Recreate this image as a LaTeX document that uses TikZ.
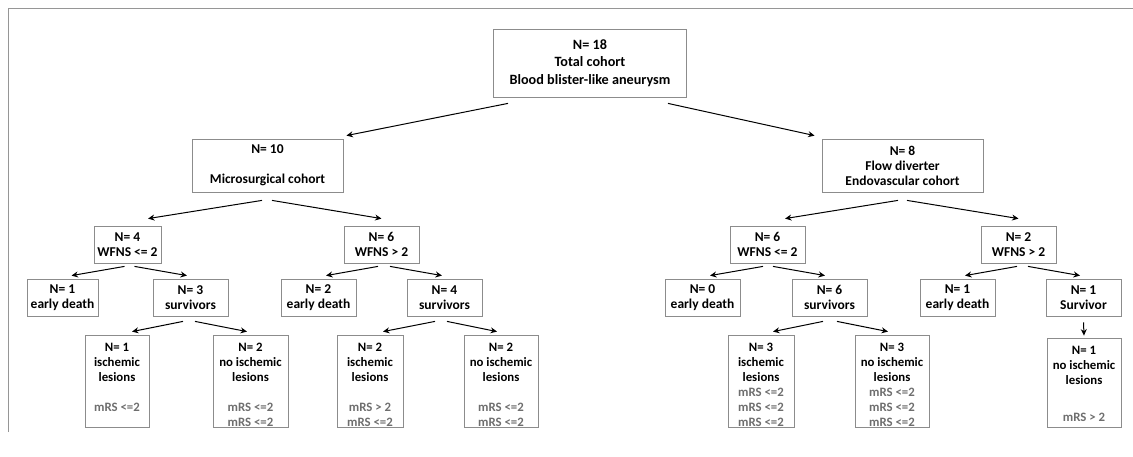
\documentclass[tikz,border=0pt]{standalone}
\usepackage{fontspec}
\setmainfont{Carlito}
\usetikzlibrary{arrows.meta}
\definecolor{boxgray}{RGB}{140,140,140}
\definecolor{mrsgray}{RGB}{110,110,110}
\definecolor{framegray}{RGB}{150,150,150}
\newcommand{\mrs}[1]{\textcolor{mrsgray}{mRS #1}}

\begin{document}
\begin{tikzpicture}[x=1pt,y=-1pt,
    box/.style={draw=boxgray,line width=0.8pt,align=center,inner sep=0pt,
      minimum height=37pt,minimum width=75pt,
      font=\fontsize{13.5}{15}\selectfont\bfseries},
    leaf/.style={box,minimum height=92pt},
    leaftext/.style={anchor=north,inner sep=0pt,align=center,yshift=-8.5pt,
      font=\fontsize{12.8}{15}\selectfont\bfseries},
    arr/.style={-{Stealth[length=6.5pt,width=6pt]},line width=1pt}]
      \useasboundingbox (0,0) rectangle (1133,457);
      % frame
      \draw[framegray,line width=0.8pt] (8,432) -- (8,8) -- (1133,8);
      % cohorts
      \node[box,minimum width=193pt,minimum height=68pt,font=\fontsize{14.2}{17.5}\selectfont\bfseries]
        (root) at (590,63) {N= 18\\Total cohort\\Blood blister-like aneurysm};
      \node[box,minimum width=151pt,minimum height=53pt] (micro) at (267.5,165.5)
        {N= 10\\[15pt]Microsurgical cohort};
      \node[box,minimum width=161pt,minimum height=53pt] (flow) at (902.5,165.5)
        {N= 8\\Flow diverter\\Endovascular cohort};
      % WFNS
      \node[box,minimum width=67pt] (mw1) at (127.5,244.5) {N= 4\\WFNS <= 2};
      \node[box] (mw2) at (381.5,244.5) {N= 6\\WFNS > 2};
      \node[box] (fw1) at (767.5,244.5) {N= 6\\WFNS <= 2};
      \node[box] (fw2) at (1018.5,244.5) {N= 2\\WFNS > 2};
      % outcome
      \node[box,minimum width=71pt] (md1) at (62.5,297.5) {N= 1\\early death};
      \node[box] (ms1) at (190.5,297.5) {N= 3\\survivors};
      \node[box] (md2) at (318.5,297.5) {N= 2\\early death};
      \node[box] (ms2) at (444.5,297.5) {N= 4\\survivors};
      \node[box] (fd1) at (702.5,297.5) {N= 0\\early death};
      \node[box] (fs1) at (829.5,297.5) {N= 6\\survivors};
      \node[box] (fd2) at (957.5,297.5) {N= 1\\early death};
      \node[box] (fs2) at (1083.5,297.5) {N= 1\\Survivor};
      % lesions
      \node[leaf,minimum width=64pt,label={[leaftext]north:{N= 1\\ischemic\\lesions\\[15pt]\mrs{<=2}}}]
        (ml1) at (117,381) {};
      \node[leaf,label={[leaftext]north:{N= 2\\no ischemic\\lesions\\[15pt]\mrs{<=2}\\\mrs{<=2}}}]
        (ml2) at (250.5,381) {};
      \node[leaf,minimum width=66pt,label={[leaftext]north:{N= 2\\ischemic\\lesions\\[15pt]\mrs{> 2}\\\mrs{<=2}}}]
        (ml3) at (370,381) {};
      \node[leaf,minimum width=74pt,label={[leaftext]north:{N= 2\\no ischemic\\lesions\\[15pt]\mrs{<=2}\\\mrs{<=2}}}]
        (ml4) at (501,381) {};
      \node[leaf,minimum width=66pt,label={[leaftext]north:{N= 3\\ischemic\\lesions\\\mrs{<=2}\\\mrs{<=2}\\\mrs{<=2}}}]
        (fl1) at (761,381) {};
      \node[leaf,minimum width=74pt,label={[leaftext]north:{N= 3\\no ischemic\\lesions\\\mrs{<=2}\\\mrs{<=2}\\\mrs{<=2}}}]
        (fl2) at (892,381) {};
      \node[leaf,minimum width=74pt,minimum height=89pt,label={[leaftext]north:{N= 1\\no ischemic\\lesions\\[22pt]\mrs{> 2}}}]
        (fl3) at (1084,382.5) {};
      \begin{scope}[arr]
        \draw ([xshift=-82pt,yshift=-6pt]root.south) -- ([xshift=3pt,yshift=3pt]micro.north east);
        \draw ([xshift=78pt,yshift=-6pt]root.south) -- ([xshift=-7pt,yshift=3pt]flow.north west);
        \draw ([xshift=-5.5pt,yshift=-8pt]micro.south) -- ([xshift=20.5pt,yshift=7pt]mw1.north);
        \draw ([xshift=4.5pt,yshift=-8pt]micro.south) -- ([yshift=7pt]mw2.north);
        \draw ([xshift=-4.5pt,yshift=-8pt]flow.south) -- ([xshift=17.5pt,yshift=7pt]fw1.north);
        \draw ([xshift=4.5pt,yshift=-8pt]flow.south) -- ([yshift=7pt]fw2.north);
        \draw ([xshift=-3pt,yshift=-3pt]mw1.south) -- ([xshift=9pt,yshift=3pt]md1.north);
        \draw ([xshift=7pt,yshift=-3pt]mw1.south) -- ([xshift=-3.5pt,yshift=3pt]ms1.north);
        \draw ([xshift=-3.5pt,yshift=-3pt]mw2.south) -- ([xshift=7.5pt,yshift=3pt]md2.north);
        \draw ([xshift=8.5pt,yshift=-3pt]mw2.south) -- ([xshift=-2.5pt,yshift=3pt]ms2.north);
        \draw ([xshift=-4.5pt,yshift=-3pt]fw1.south) -- ([xshift=7.5pt,yshift=3pt]fd1.north);
        \draw ([xshift=5.5pt,yshift=-3pt]fw1.south) -- ([xshift=-4.5pt,yshift=3pt]fs1.north);
        \draw ([xshift=-1.5pt,yshift=-3pt]fw2.south) -- ([xshift=7.5pt,yshift=3pt]fd2.north);
        \draw ([xshift=9.5pt,yshift=-3pt]fw2.south) -- ([xshift=-3.5pt,yshift=3pt]fs2.north);
        \draw ([xshift=-7.5pt,yshift=-5pt]ms1.south) -- ([xshift=15pt,yshift=3pt]ml1.north);
        \draw ([xshift=4.5pt,yshift=-5pt]ms1.south) -- ([xshift=-3.5pt,yshift=3pt]ml2.north);
        \draw ([xshift=-9.5pt,yshift=-5pt]ms2.south) -- ([xshift=13pt,yshift=3pt]ml3.north);
        \draw ([xshift=2.5pt,yshift=-5pt]ms2.south) -- ([xshift=-4pt,yshift=3pt]ml4.north);
        \draw ([xshift=-6.5pt,yshift=-5pt]fs1.south) -- ([xshift=12pt,yshift=3pt]fl1.north);
        \draw ([xshift=7.5pt,yshift=-5pt]fs1.south) -- ([xshift=-4pt,yshift=3pt]fl2.north);
        \draw ([yshift=-6pt]fs2.south) -- ([yshift=2pt]fl3.north);
      \end{scope}
\end{tikzpicture}
\end{document}
